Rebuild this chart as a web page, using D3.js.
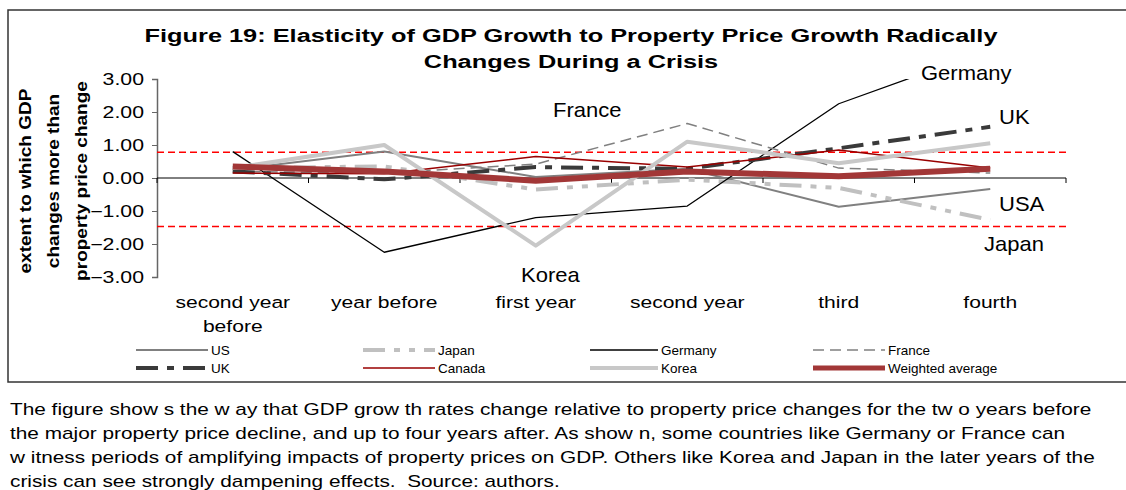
<!DOCTYPE html>
<html>
<head>
<meta charset="utf-8">
<script src="https://cdn.jsdelivr.net/npm/d3@7"></script>
<style>
  body { margin: 0; background: #fff; }
  svg { display: block; font-family: "Liberation Sans", Arial, sans-serif; }
  .cap { white-space: pre; }
</style>
</head>
<body>
<div id="chart"></div>
<script>
// periods around the property price decline
const periods = ['second year before', 'year before', 'first year', 'second year', 'third', 'fourth']
const periodLines = [['second year', 'before'], ['year before'], ['first year'], ['second year'], ['third'], ['fourth']]

// elasticity values
const us = [0.25, 0.8, 0.03, 0.28, -0.87, -0.33]
const japan = [0.3, 0.35, -0.35, -0.05, -0.3, -1.27]
const germany = [0.8, -2.25, -1.2, -0.85, 2.25, 3.9]
const france = [0.2, 0.15, 0.42, 1.65, 0.3, 0.15]
const uk = [0.2, -0.04, 0.33, 0.28, 0.9, 1.55]
const canada = [0.15, 0.13, 0.65, 0.33, 0.85, 0.3]
const korea = [0.3, 1.0, -2.05, 1.1, 0.45, 1.05]
const weighted = [0.35, 0.2, -0.08, 0.2, 0.05, 0.28]

const thresholds = [0.78, -1.47]
const yTicks = [3, 2, 1, 0, -1, -2, -3]

const series = [
  {name: 'US', values: us, color: '#808080', width: 2, dash: null},
  {name: 'Japan', values: japan, color: '#c0c0c0', width: 4, dash: '22,9,6,9,6,9'},
  {name: 'Germany', values: germany, color: '#000000', width: 1.3, dash: null},
  {name: 'France', values: france, color: '#808080', width: 1.5, dash: '11,6'},
  {name: 'UK', values: uk, color: '#3a3a3a', width: 4, dash: '22,9,7,9'},
  {name: 'Canada', values: canada, color: '#990000', width: 1.5, dash: null},
  {name: 'Korea', values: korea, color: '#c8c8c8', width: 4, dash: null},
  {name: 'Weighted average', values: weighted, color: '#a23737', width: 6, dash: null},
]

// line annotations
const notes = [
  {text: 'Germany', x: 921, y: 80},
  {text: 'UK', x: 999, y: 124},
  {text: 'France', x: 553, y: 117},
  {text: 'USA', x: 999, y: 211},
  {text: 'Japan', x: 984, y: 251},
  {text: 'Korea', x: 521, y: 282},
]

const caption = [
  'The figure show s the w ay that GDP grow th rates change relative to property price changes for the tw o years before',
  'the major property price decline, and up to four years after. As show n, some countries like Germany or France can',
  'w itness periods of amplifying impacts of property prices on GDP. Others like Korea and Japan in the later years of the',
  'crisis can see strongly dampening effects.  Source: authors.',
]

const W = 1126, H = 490
const plot = {left: 157, right: 1066, top: 79, bottom: 277}

const svg = d3.select('#chart').append('svg').attr('width', W).attr('height', H)

// horizontal stretch for text, the source pdf renders glyphs wide
const stretch = (sel, k) => sel.each(function () {
  const t = d3.select(this)
  const x = +t.attr('x') || 0
  const y = +t.attr('y') || 0
  t.attr('x', null).attr('y', null)
      .attr('transform', `translate(${x},${y}) scale(${k},1)`)
})

// chart frame
svg.append('rect')
    .attr('x', 8).attr('y', 10)
    .attr('width', 1130).attr('height', 372)
    .attr('fill', 'none').attr('stroke', '#333').attr('stroke-width', 1.5)

const title = svg.append('text')
    .attr('text-anchor', 'middle')
    .attr('font-weight', 'bold')
    .attr('font-size', 19)
title.append('tspan').attr('x', 0).attr('y', 0)
    .text('Figure 19: Elasticity of GDP Growth to Property Price Growth Radically')
title.append('tspan').attr('x', 0).attr('y', 26)
    .text('Changes During a Crisis')
title.attr('transform', 'translate(571,42) scale(1.335,1)')

const x = d3.scaleBand().domain(periods).range([plot.left, plot.right])
const cx = (d) => x(d) + x.bandwidth() / 2
const y = d3.scaleLinear().domain([-3, 3]).range([plot.bottom, plot.top])

// y axis
const yAxis = svg.append('g')
    .attr('transform', `translate(${plot.left},0)`)
    .call(d3.axisLeft(y).tickValues(yTicks).tickFormat(d3.format('.2f')).tickSizeOuter(0).tickSize(5))
yAxis.select('.domain').attr('stroke', '#666').attr('stroke-width', 1.5)
yAxis.selectAll('.tick line').attr('stroke', '#666')
yAxis.selectAll('.tick text')
    .attr('font-size', 16)
    .attr('fill', '#000')
    .attr('font-family', 'Liberation Sans, Arial, sans-serif')
    .attr('dy', '0.36em')
    .each(function () {
      d3.select(this).attr('transform', 'translate(-13,0) scale(1.33,1)').attr('x', 0)
    })

// x axis along zero
svg.append('line')
    .attr('x1', plot.left).attr('x2', plot.right)
    .attr('y1', y(0)).attr('y2', y(0))
    .attr('stroke', '#000').attr('stroke-width', 1)
svg.selectAll('line.xtick')
    .data(periods.concat(['end']))
    .join('line')
    .attr('class', 'xtick')
    .attr('x1', (d) => d === 'end' ? plot.right : x(d))
    .attr('x2', (d) => d === 'end' ? plot.right : x(d))
    .attr('y1', y(0)).attr('y2', y(0) + 5)
    .attr('stroke', '#000')

const xLabels = svg.selectAll('text.xlab')
    .data(periods)
    .join('text')
    .attr('class', 'xlab')
    .attr('text-anchor', 'middle')
    .attr('font-size', 17)
    .attr('x', (d) => cx(d))
    .attr('y', 308)
xLabels.selectAll('tspan')
    .data((d, i) => periodLines[i])
    .join('tspan')
    .attr('x', 0)
    .attr('dy', (d, i) => i ? 24 : 0)
    .text((d) => d)
stretch(xLabels, 1.24)

// y axis title
const yTitle = svg.append('text')
    .attr('transform', 'translate(31,181) rotate(-90) scale(1.12,1)')
    .attr('text-anchor', 'middle')
    .attr('font-weight', 'bold')
    .attr('font-size', 17)
;['extent to which GDP', 'changes more than', 'property price change'].forEach((s, i) => {
  yTitle.append('tspan').attr('x', 0).attr('y', i * 28).text(s)
})

// plotting clip
svg.append('clipPath').attr('id', 'plotclip')
    .append('rect')
    .attr('x', plot.left).attr('y', plot.top)
    .attr('width', plot.right - plot.left + 10)
    .attr('height', plot.bottom - plot.top)

// threshold lines
svg.selectAll('line.thr')
    .data(thresholds)
    .join('line')
    .attr('class', 'thr')
    .attr('x1', plot.left).attr('x2', 1070)
    .attr('y1', (d) => y(d)).attr('y2', (d) => y(d))
    .attr('stroke', '#ff0000').attr('stroke-width', 1.5)
    .attr('stroke-dasharray', '7,4')

const line = d3.line()
    .x((d, i) => cx(periods[i]))
    .y((d) => y(d))

svg.append('g').attr('clip-path', 'url(#plotclip)')
    .selectAll('path')
    .data(series)
    .join('path')
    .attr('d', (d) => line(d.values))
    .attr('fill', 'none')
    .attr('stroke', (d) => d.color)
    .attr('stroke-width', (d) => d.width)
    .attr('stroke-dasharray', (d) => d.dash)
    .attr('stroke-linejoin', 'round')

// annotations
const noteText = svg.selectAll('text.note')
    .data(notes)
    .join('text')
    .attr('class', 'note')
    .attr('font-size', 20)
    .attr('x', (d) => d.x).attr('y', (d) => d.y)
    .text((d) => d.text)
stretch(noteText, 1.1)

// legend
const legendCols = [136, 363, 590, 813]
const legendRows = [350, 368]
const legendLen = [72, 72, 68, 72]
const leg = svg.selectAll('g.leg')
    .data(series)
    .join('g')
    .attr('class', 'leg')
    .attr('transform', (d, i) => `translate(${legendCols[i % 4]},${legendRows[Math.floor(i / 4)]})`)
leg.append('line')
    .attr('x1', 0).attr('x2', (d, i) => legendLen[i % 4])
    .attr('y1', 0).attr('y2', 0)
    .attr('stroke', (d) => d.color)
    .attr('stroke-width', (d) => Math.min(d.width, 5))
    .attr('stroke-dasharray', (d) => d.dash)
leg.append('text')
    .attr('x', (d, i) => legendLen[i % 4] + 3)
    .attr('y', 0).attr('dy', '0.35em')
    .attr('font-size', 13.5)
    .text((d) => d.name)

// caption under the chart
const cap = svg.selectAll('text.cap')
    .data(caption)
    .join('text')
    .attr('class', 'cap')
    .attr('x', 10)
    .attr('y', (d, i) => 415 + i * 24)
    .attr('font-size', 16)
    .text((d) => d)
stretch(cap, 1.3)
</script>
</body>
</html>
